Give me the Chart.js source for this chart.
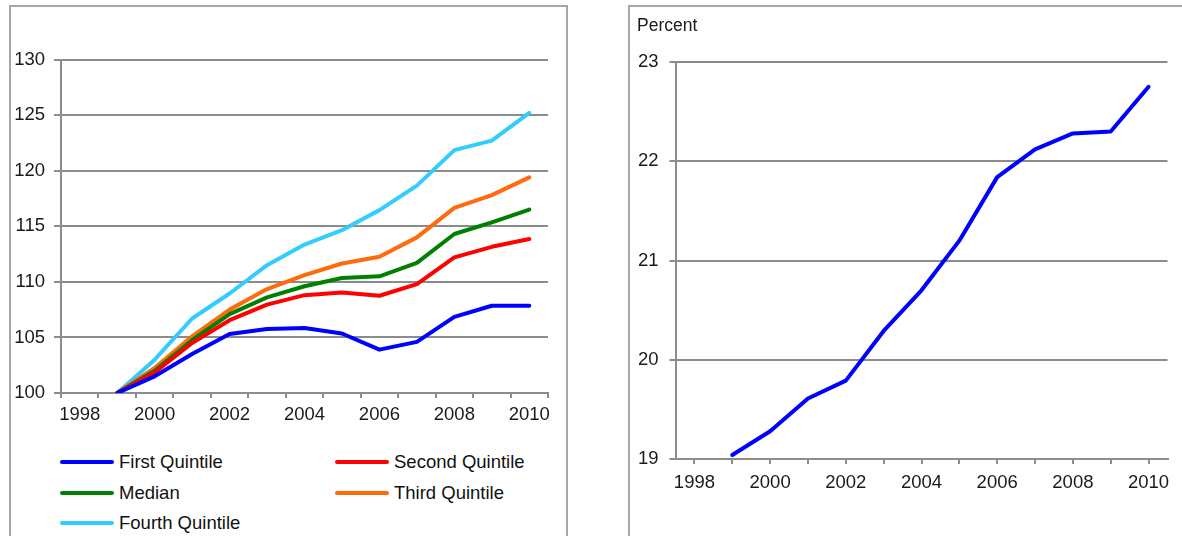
<!DOCTYPE html>
<html lang="en">
<head>
  <meta charset="UTF-8" />
  <title>Income by quintile and percent share</title>
  <script src="https://cdn.jsdelivr.net/npm/chart.js"></script>
  <style>
    body {
      margin: 0;
      background: #ffffff;
      width: 1182px;
      height: 536px;
      overflow: hidden;
      position: relative;
      font-family: "Liberation Sans", Arial, sans-serif;
    }
    .panel {
      position: absolute;
      border: 2px solid #a6a6a6;
      box-sizing: border-box;
    }
    #leftBox { left: 9px; top: 5px; width: 559px; height: 580px; }
    #rightBox { left: 628px; top: 5px; width: 620px; height: 580px; }
    canvas { position: absolute; top: 0; }
    #leftChart { left: 0; }
    #rightChart { left: 629px; }
    .leg-item {
      position: absolute;
      height: 20px;
      line-height: 20px;
      font-size: 18.5px;
      color: #111;
      white-space: nowrap;
    }
    .leg-line {
      position: absolute;
      left: 0;
      top: 8px;
      width: 54px;
      height: 4px;
      border-radius: 2px;
    }
    .leg-text { position: absolute; left: 59px; top: 0; }
  </style>
</head>
<body>
  <div id="leftBox" class="panel"></div>
  <div id="rightBox" class="panel"></div>
  <canvas id="leftChart" width="572" height="440"></canvas>
  <canvas id="rightChart" width="553" height="536"></canvas>
  <div id="legend"></div>

  <script>
    // valeurs
    const years = ['1998', '1999', '2000', '2001', '2002', '2003', '2004', '2005', '2006', '2007', '2008', '2009', '2010'];

    const firstQuintile  = [null, 100, 101.5, 103.5, 105.3, 105.75, 105.85, 105.35, 103.9, 104.6, 106.85, 107.85, 107.85];
    const secondQuintile = [null, 100, 101.85, 104.5, 106.55, 107.95, 108.8, 109.05, 108.75, 109.8, 112.2, 113.15, 113.85];
    const median         = [null, 100, 102.0, 104.75, 107.1, 108.6, 109.6, 110.35, 110.5, 111.7, 114.3, 115.35, 116.5];
    const thirdQuintile  = [null, 100, 102.25, 105.1, 107.5, 109.35, 110.6, 111.65, 112.25, 114.0, 116.65, 117.8, 119.4];
    const fourthQuintile = [null, 100, 103.0, 106.7, 108.95, 111.5, 113.35, 114.65, 116.45, 118.65, 121.85, 122.7, 125.2];

    const percentShare = [null, 19.04, 19.28, 19.61, 19.79, 20.29, 20.70, 21.20, 21.84, 22.12, 22.28, 22.30, 22.75];

    const gridColor = '#8c8c8c';
    const textColor = '#1a1a1a';

    Chart.defaults.font.family = '"Liberation Sans", Arial, sans-serif';
    Chart.defaults.font.size = 18.5;
    Chart.defaults.color = textColor;

    const lineStyle = {
      borderWidth: 4,
      pointRadius: 0,
      tension: 0,
      fill: false,
      borderCapStyle: 'round',
      borderJoinStyle: 'round'
    };

    const evenLabels = function (value, index) {
      return index % 2 === 0 ? this.getLabelForValue(value) : '';
    };

    // graphique de gauche : quintiles
    const leftChart = new Chart(document.getElementById('leftChart'), {
      type: 'line',
      data: {
        labels: years,
        datasets: [
          { label: 'First Quintile', data: firstQuintile, borderColor: '#0000ff', ...lineStyle },
          { label: 'Second Quintile', data: secondQuintile, borderColor: '#ff0000', ...lineStyle },
          { label: 'Median', data: median, borderColor: '#008000', ...lineStyle },
          { label: 'Third Quintile', data: thirdQuintile, borderColor: '#ff6a0d', ...lineStyle },
          { label: 'Fourth Quintile', data: fourthQuintile, borderColor: '#33ccff', ...lineStyle }
        ]
      },
      options: {
        responsive: false,
        animation: false,
        layout: { padding: { top: 59.5, right: 24, bottom: 0, left: 0 } },
        plugins: { legend: { display: false }, tooltip: { enabled: false } },
        scales: {
          x: {
            offset: true,
            grid: { offset: true, drawOnChartArea: false, drawTicks: true, tickLength: 5, color: gridColor, lineWidth: 2 },
            border: { display: true, color: gridColor, width: 2 },
            ticks: { autoSkip: false, maxRotation: 0, padding: 6, callback: evenLabels },
            afterFit: s => { s.height = 47; }
          },
          y: {
            min: 100,
            max: 130,
            ticks: { stepSize: 5, padding: 9 },
            grid: { color: gridColor, lineWidth: 2, tickLength: 7 },
            border: { display: true, color: gridColor, width: 2 },
            afterFit: s => { s.width = 61; }
          }
        }
      }
    });

    // légende HTML en deux colonnes
    const legend = document.getElementById('legend');
    const colX = [60, 335];
    const rowY = [462, 492.5, 522.5];
    leftChart.data.datasets.forEach((ds, i) => {
      const item = document.createElement('div');
      item.className = 'leg-item';
      item.style.left = colX[i % 2] + 'px';
      item.style.top = (rowY[Math.floor(i / 2)] - 10) + 'px';
      item.innerHTML = '<span class="leg-line" style="background:' + ds.borderColor + '"></span>' +
                       '<span class="leg-text">' + ds.label + '</span>';
      legend.appendChild(item);
    });

    // graphique de droite : pourcentage
    new Chart(document.getElementById('rightChart'), {
      type: 'line',
      data: {
        labels: years,
        datasets: [
          { label: 'Percent', data: percentShare, borderColor: '#0000ff', ...lineStyle }
        ]
      },
      options: {
        responsive: false,
        animation: false,
        layout: { padding: { top: 0, right: 14.5, bottom: 0, left: 8 } },
        plugins: {
          legend: { display: false },
          tooltip: { enabled: false },
          title: {
            display: true,
            text: 'Percent',
            align: 'start',
            color: textColor,
            font: { size: 17.5, weight: 'normal' },
            padding: { top: 16, bottom: 25 }
          }
        },
        scales: {
          x: {
            offset: true,
            grid: { offset: false, drawOnChartArea: false, drawTicks: true, tickLength: 5, color: gridColor, lineWidth: 2 },
            border: { display: true, color: gridColor, width: 2 },
            ticks: { autoSkip: false, maxRotation: 0, padding: 8, callback: evenLabels },
            afterFit: s => { s.height = 77; }
          },
          y: {
            min: 19,
            max: 23,
            ticks: { stepSize: 1, padding: 11 },
            grid: { color: gridColor, lineWidth: 2, tickLength: 6 },
            border: { display: true, color: gridColor, width: 2 },
            afterFit: s => { s.width = 38.5; }
          }
        }
      }
    });
  </script>
</body>
</html>
